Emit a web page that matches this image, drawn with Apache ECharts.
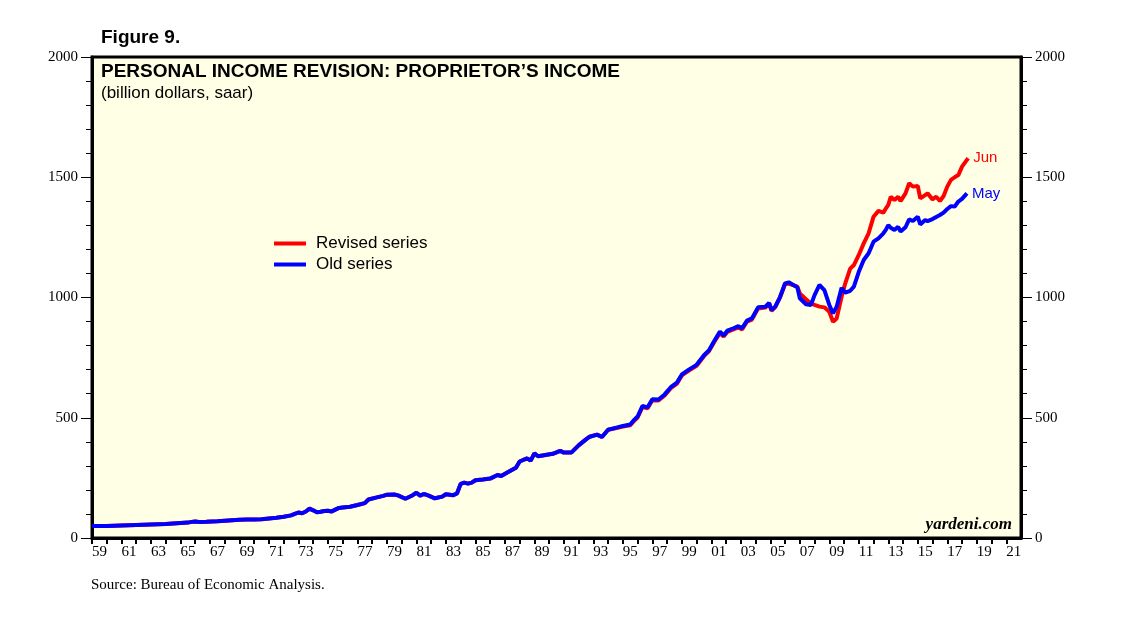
<!DOCTYPE html>
<html>
<head>
<meta charset="utf-8">
<script src="https://cdn.jsdelivr.net/npm/echarts@6/dist/echarts.min.js"></script>
<style>
html,body{margin:0;padding:0;background:#fff;}
#chart{width:1138px;height:626px;}
</style>
</head>
<body>
<div id="chart"></div>
<script>
// ---- DATA (billion dollars, saar) ----
const dates = [
 '1959-01','1959-07','1960-01','1960-07','1961-01','1961-07','1962-01','1962-07','1963-01','1963-07',
 '1964-01','1964-07','1965-01','1965-07','1965-10','1966-01','1966-04','1966-10','1967-07','1968-01',
 '1968-07','1969-01','1969-07','1970-01','1970-07','1971-01','1971-07','1972-01','1972-07','1972-10',
 '1973-01','1973-04','1973-07','1973-10','1974-01','1974-04','1974-07','1974-10','1975-01','1975-04',
 '1975-07','1975-10','1976-01','1976-07','1977-01','1977-07','1977-10','1978-04','1978-10','1979-01',
 '1979-07','1979-10','1980-04','1980-10','1981-01','1981-04','1981-07','1981-10','1982-04','1982-10',
 '1983-01','1983-07','1983-10','1984-01','1984-04','1984-07','1984-10','1985-01','1985-07','1986-01',
 '1986-07','1986-10','1987-04','1987-10','1988-01','1988-07','1988-10','1989-01','1989-04','1989-10',
 '1990-04','1990-10','1991-01','1991-07','1992-01','1992-07','1992-10','1993-04','1993-08','1994-01',
 '1994-07','1995-01','1995-07','1995-10','1996-01','1996-05','1996-09','1997-01','1997-06','1997-11',
 '1998-04','1998-09','1999-01','1999-07','2000-01','2000-07','2000-11','2001-03','2001-08','2001-11',
 '2002-02','2002-07','2002-11','2003-02','2003-06','2003-10','2004-03','2004-09','2004-12','2005-02',
 '2005-05','2005-09','2006-01','2006-04','2006-11','2007-01','2007-06','2007-10','2008-01','2008-05',
 '2008-09','2009-01','2009-04','2009-07','2009-11','2010-02','2010-06','2010-09','2011-01','2011-05',
 '2011-09','2012-01','2012-05','2012-09','2012-11','2013-01','2013-03','2013-06','2013-09','2013-11',
 '2014-03','2014-06','2014-09','2015-01','2015-03','2015-07','2015-09','2016-01','2016-04','2016-07',
 '2016-10','2017-01','2017-04','2017-07','2017-10','2018-01','2018-05','2018-06'
];
const oldSeries = [
 50,50,50,51,52,53,54,55,56,57,
 58,60,62,64,67,69,67,68,70,72,
 74,76,77,77,78,81,84,88,94,100,
 106,103,110,122,115,107,109,112,113,110,
 118,125,127,130,137,145,160,168,175,180,
 181,177,163,178,188,176,183,178,165,172,
 182,178,185,225,230,226,230,240,243,247,
 262,258,275,292,318,331,322,352,340,345,
 350,362,355,355,385,410,421,430,420,450,
 458,466,472,490,505,549,543,577,576,597,
 627,646,680,701,720,760,780,816,858,842,
 862,872,881,872,904,913,959,962,978,948,
 962,1003,1059,1063,1042,997,972,969,1010,1052,
 1031,969,934,962,1040,1020,1028,1045,1107,1156,
 1184,1232,1246,1267,1281,1301,1290,1281,1294,1274,
 1292,1325,1318,1336,1304,1322,1318,1326,1335,1343,
 1353,1368,1380,1378,1399,1410,1433,null
];
const revisedSeries = [
 50,50,50,51,52,53,54,55,56,57,
 58,60,62,64,67,69,67,68,70,72,
 74,76,77,77,78,81,84,88,94,100,
 106,103,110,122,115,107,109,112,113,110,
 118,125,127,130,137,145,160,168,175,180,
 181,177,163,178,188,176,183,178,165,172,
 182,178,185,225,230,226,230,240,243,247,
 262,258,275,292,318,331,322,352,340,345,
 350,362,355,355,385,410,421,430,420,450,
 456,463,469,486,501,545,539,573,572,593,
 623,642,676,697,716,756,776,812,853,838,
 857,867,876,867,899,908,954,958,974,945,
 960,1002,1055,1058,1045,1017,993,975,969,962,
 959,941,899,913,1003,1059,1120,1135,1177,1225,
 1267,1336,1360,1353,1370,1385,1419,1405,1419,1401,
 1433,1475,1461,1464,1412,1426,1433,1408,1419,1401,
 1422,1461,1489,1500,1509,1544,1572,1579
];
const yearTicks = { min: 1959, max: 2022 };
const yTicks = { min: 0, max: 2000, interval: 500 };

// ---- build ----
function decYear(s){ const p = s.split('-'); return +p[0] + (+p[1]-1)/12; }
const oldData = dates.map((d,i)=>[decYear(d), oldSeries[i]]).filter(p=>p[1]!==null);
const revData = dates.map((d,i)=>[decYear(d), revisedSeries[i]]).filter(p=>p[1]!==null);

const serif = '"Liberation Serif","Times New Roman",serif';
const sans = '"Liberation Sans",Arial,sans-serif';

const chart = echarts.init(document.getElementById('chart'), null, {renderer:'canvas'});
const yAxisCommon = {
  type:'value', min:yTicks.min, max:yTicks.max, interval:yTicks.interval,
  splitLine:{show:false},
  axisLine:{show:true, lineStyle:{color:'#000', width:3}},
  axisTick:{show:true, inside:false, length:11, lineStyle:{color:'#000', width:1}},
  minorTick:{show:true, splitNumber:5, length:6, lineStyle:{color:'#000', width:1}},
  axisLabel:{color:'#000', fontFamily:serif, fontSize:15, margin:14, formatter:function(v){return String(v);}}
};
chart.setOption({
  animation:false,
  backgroundColor:'#fff',
  grid:{left:92, right:117, top:57, bottom:88, show:true, backgroundColor:'#FFFFE6', borderColor:'#000', borderWidth:3},
  xAxis:{
    type:'value', min:yearTicks.min, max:yearTicks.max, interval:1,
    splitLine:{show:false},
    axisLine:{show:true, lineStyle:{color:'#000', width:3}},
    axisTick:{show:true, inside:false, length:6, lineStyle:{color:'#000', width:2}},
    axisLabel:{
      color:'#000', fontFamily:serif, fontSize:15, margin:7, align:'left',
      showMaxLabel:false,
      formatter:function(v){ return (v % 2 === 1) ? String(v).slice(2) : ''; }
    }
  },
  yAxis:[
    Object.assign({position:'left'}, yAxisCommon),
    Object.assign({position:'right'}, yAxisCommon)
  ],
  legend:{
    orient:'vertical', left:269, top:230, itemWidth:32, itemHeight:4, itemGap:4,
    icon:'rect', textStyle:{fontFamily:sans, fontSize:17, color:'#000', padding:[0,0,0,5]},
    data:['Revised series','Old series']
  },
  title:[
    {text:'Figure 9.', left:101, top:28, padding:0, textStyle:{fontFamily:sans, fontWeight:'bold', fontSize:19, color:'#000'}},
    {text:'PERSONAL INCOME REVISION: PROPRIETOR\u2019S INCOME', left:101, top:62, padding:0,
     textStyle:{fontFamily:sans, fontWeight:'bold', fontSize:19, color:'#000'}},
    {text:'(billion dollars, saar)', left:101, top:85, padding:0,
     textStyle:{fontFamily:sans, fontWeight:'normal', fontSize:17, color:'#000'}},
    {text:'yardeni.com', right:126, top:516, padding:0,
     textStyle:{fontFamily:serif, fontStyle:'italic', fontWeight:'bold', fontSize:17, color:'#000'}},
    {text:'Source: Bureau of Economic Analysis.', left:91, top:578, padding:0,
     textStyle:{fontFamily:serif, fontWeight:'normal', fontSize:15, color:'#000'}}
  ],
  series:[
    {name:'Revised series', type:'line', data:revData, showSymbol:false, symbol:'none',
     lineStyle:{color:'#FF0000', width:4}, itemStyle:{color:'#FF0000'},
     endLabel:{show:true, formatter:'Jun', color:'#FF0000', fontFamily:sans, fontSize:15, distance:5}},
    {name:'Old series', type:'line', data:oldData, showSymbol:false, symbol:'none',
     lineStyle:{color:'#0000FF', width:4}, itemStyle:{color:'#0000FF'},
     endLabel:{show:true, formatter:'May', color:'#0000FF', fontFamily:sans, fontSize:15, distance:5}}
  ]
});
</script>
</body>
</html>
